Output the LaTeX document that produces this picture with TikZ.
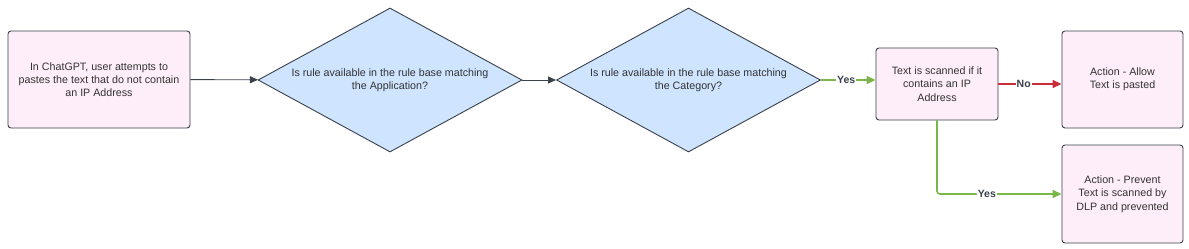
\documentclass[tikz,border=0pt]{standalone}
\usepackage{fontspec}
\setmainfont{Liberation Sans}
\usetikzlibrary{shapes.geometric,arrows.meta,positioning}
\definecolor{boxpink}{HTML}{FDEEFA}
\definecolor{qblue}{HTML}{CFE4FF}
\definecolor{edgegray}{HTML}{3A414A}
\definecolor{yesgreen}{HTML}{7AB648}
\definecolor{nored}{HTML}{C92D39}

\begin{document}
\begin{tikzpicture}[x=1pt,y=-1pt,font=\fontsize{10.7}{13.3}\selectfont]
\tikzset{stepbox/.style={draw=edgegray,fill=boxpink,line width=0.9pt,rounded corners=3pt,align=center,inner sep=2pt,text=black!80},
  query/.style={diamond,draw=edgegray,fill=qblue,line width=0.9pt,aspect=1.83,inner sep=0pt,minimum width=264pt,minimum height=144pt,align=center,text=black!80},
  flow/.style={-{Triangle[length=8pt,width=7pt]},line width=0.9pt,draw=edgegray},
  okflow/.style={flow,line width=1.6pt,draw=yesgreen,-{Triangle[length=9pt,width=8pt,fill=yesgreen]}},
  noflow/.style={flow,line width=1.6pt,draw=nored,-{Triangle[length=9pt,width=8pt,fill=nored]}},
  tag/.style={font=\bfseries\fontsize{10.5}{12}\selectfont,text=edgegray,fill=white,inner sep=1pt}}
\useasboundingbox (0,0) rectangle (1189,249);
\node[stepbox,minimum width=182pt,minimum height=97pt] (paste) at (99,79.5)
  {In ChatGPT, user attempts to\\pastes the text that do not contain\\an IP Address};
\node[query] (app) at (390,80) {Is rule available in the rule base matching\\the Application?};
\node[query] (cat) at (688.5,80) {Is rule available in the rule base matching\\the Category?};
\node[stepbox,minimum width=122pt,minimum height=72pt] (scan) at (937,84)
  {Text is scanned if it\\contains an IP\\Address};
\node[stepbox,minimum width=121pt,minimum height=97pt] (allow) at (1122.5,79.5)
  {Action - Allow\\Text is pasted};
\node[stepbox,minimum width=121pt,minimum height=98pt] (prevent) at (1122.5,194)
  {Action - Prevent\\Text is scanned by\\DLP and prevented};
% connectors
\draw[flow] (paste) -- (app);
\draw[flow] (app) -- (cat);
\draw[okflow] (cat.east) -- (cat.east -| scan.west) node[tag,midway,xshift=-2pt] {Yes};
\draw[noflow] (scan.east) -- (scan.east -| allow.west) node[tag,pos=0.4] {No};
\draw[okflow,rounded corners=3pt] (scan.south) |- (prevent.west) node[tag,pos=0.7] {Yes};
\end{tikzpicture}
\end{document}
